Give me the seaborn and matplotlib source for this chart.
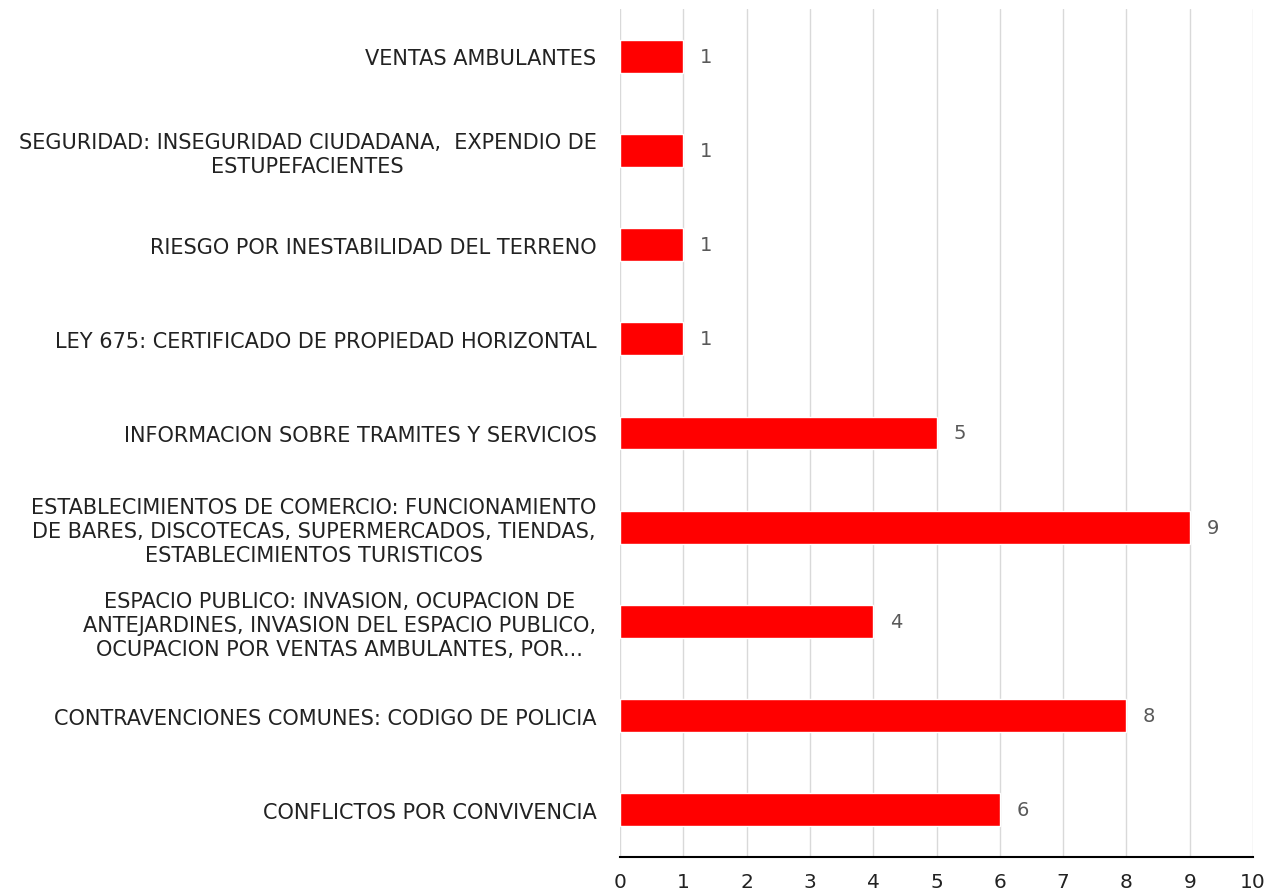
import matplotlib
matplotlib.use("Agg")
import matplotlib.pyplot as plt
import seaborn as sns
import pandas as pd

categories = [
    "VENTAS AMBULANTES",
    "SEGURIDAD: INSEGURIDAD CIUDADANA,  EXPENDIO DE\nESTUPEFACIENTES",
    "RIESGO POR INESTABILIDAD DEL TERRENO",
    "LEY 675: CERTIFICADO DE PROPIEDAD HORIZONTAL",
    "INFORMACION SOBRE TRAMITES Y SERVICIOS",
    "ESTABLECIMIENTOS DE COMERCIO: FUNCIONAMIENTO\nDE BARES, DISCOTECAS, SUPERMERCADOS, TIENDAS,\nESTABLECIMIENTOS TURISTICOS",
    "ESPACIO PUBLICO: INVASION, OCUPACION DE\nANTEJARDINES, INVASION DEL ESPACIO PUBLICO,\nOCUPACION POR VENTAS AMBULANTES, POR...",
    "CONTRAVENCIONES COMUNES: CODIGO DE POLICIA",
    "CONFLICTOS POR CONVIVENCIA",
]
values = [1, 1, 1, 1, 5, 9, 4, 8, 6]
x_ticks = [0, 1, 2, 3, 4, 5, 6, 7, 8, 9, 10]

df = pd.DataFrame({"cat": categories, "val": values})

sns.set_theme(style="white")
plt.rcParams["font.family"] = ["DejaVu Sans"]

fig = plt.figure(figsize=(12.73, 8.95), dpi=100)
ax = fig.add_axes([620 / 1273, 37 / 895, 633 / 1273, 848 / 895])

sns.barplot(data=df, x="val", y="cat", orient="h", color="#FF0000",
            saturation=1, width=0.35, ax=ax, order=categories)

ax.set_xlim(0, 10)
ax.set_xticks(x_ticks)
ax.set_xticklabels([str(t) for t in x_ticks], fontsize=14.5, color="#222222")
ax.tick_params(axis="x", length=0, pad=11)
ax.tick_params(axis="y", length=0, pad=17)
ax.grid(axis="x", color="#D9D9D9", linewidth=1.0)
ax.set_axisbelow(True)
for s in ["top", "right", "left"]:
    ax.spines[s].set_visible(False)
ax.spines["bottom"].set_color("#000000")
ax.spines["bottom"].set_linewidth(1.5)
ax.set_xlabel("")
ax.set_ylabel("")

for lbl in ax.get_yticklabels():
    lbl.set_fontsize(15)
    lbl.set_color("#222222")
    lbl.set_multialignment("center")
    lbl.set_linespacing(1.25)

for c in ax.containers:
    ax.bar_label(c, labels=[str(v) for v in values], padding=12,
                 fontsize=14, color="#595959")

fig.savefig("out.png", dpi=100)
